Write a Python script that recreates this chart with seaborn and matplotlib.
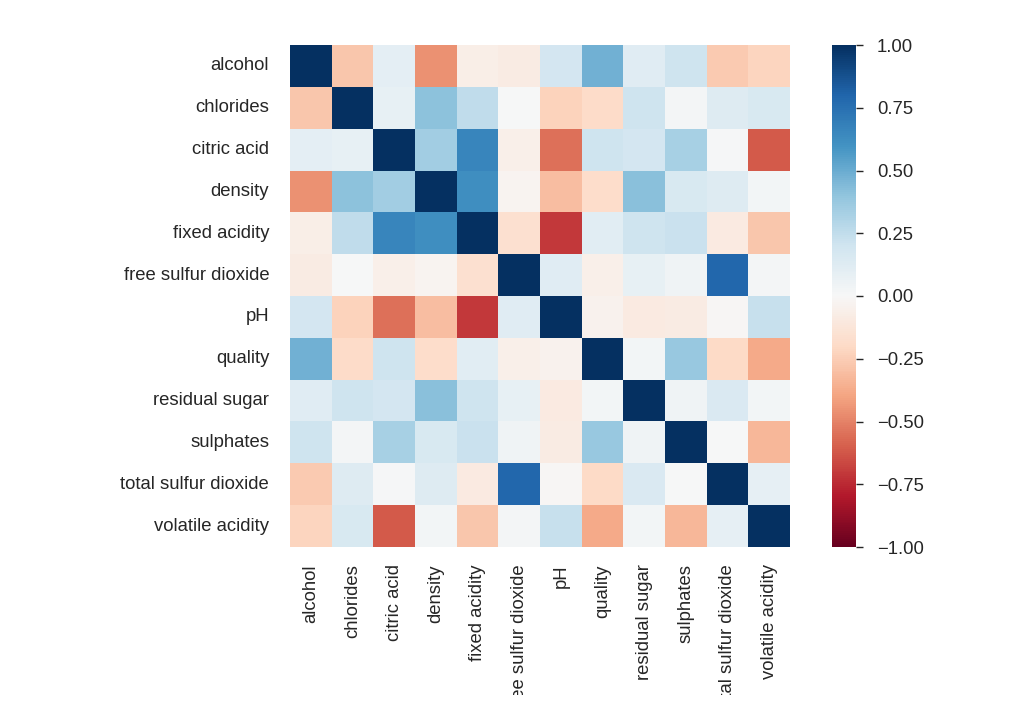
import numpy as np
import pandas as pd
import matplotlib
matplotlib.use("Agg")
import matplotlib.pyplot as plt
from matplotlib.transforms import Bbox, TransformedBbox
import seaborn as sns

features = ["alcohol", "chlorides", "citric acid", "density", "fixed acidity",
            "free sulfur dioxide", "pH", "quality", "residual sugar",
            "sulphates", "total sulfur dioxide", "volatile acidity"]

r_alcohol   = [1.00, -0.28, 0.10, -0.46, -0.07, -0.08, 0.18, 0.48, 0.12, 0.21, -0.26, -0.22]
r_chlorides = [-0.28, 1.00, 0.08, 0.41, 0.25, 0.00, -0.23, -0.19, 0.21, 0.02, 0.13, 0.16]
r_citric    = [0.10, 0.08, 1.00, 0.35, 0.66, -0.06, -0.55, 0.21, 0.18, 0.33, 0.01, -0.61]
r_density   = [-0.46, 0.41, 0.35, 1.00, 0.62, -0.03, -0.31, -0.18, 0.42, 0.16, 0.13, 0.03]
r_fixed     = [-0.07, 0.25, 0.66, 0.62, 1.00, -0.16, -0.71, 0.11, 0.21, 0.22, -0.09, -0.28]
r_free      = [-0.08, 0.00, -0.06, -0.03, -0.16, 1.00, 0.12, -0.06, 0.08, 0.04, 0.79, 0.02]
r_ph        = [0.18, -0.23, -0.55, -0.31, -0.71, 0.12, 1.00, -0.04, -0.09, -0.08, -0.01, 0.23]
r_quality   = [0.48, -0.19, 0.21, -0.18, 0.11, -0.06, -0.04, 1.00, 0.03, 0.38, -0.20, -0.38]
r_sugar     = [0.12, 0.21, 0.18, 0.42, 0.21, 0.08, -0.09, 0.03, 1.00, 0.04, 0.15, 0.03]
r_sulphates = [0.21, 0.02, 0.33, 0.16, 0.22, 0.04, -0.08, 0.38, 0.04, 1.00, 0.00, -0.33]
r_total     = [-0.26, 0.13, 0.01, 0.13, -0.09, 0.79, -0.01, -0.20, 0.15, 0.00, 1.00, 0.09]
r_volatile  = [-0.22, 0.16, -0.61, 0.03, -0.28, 0.02, 0.23, -0.38, 0.03, -0.33, 0.09, 1.00]

rows = [r_alcohol, r_chlorides, r_citric, r_density, r_fixed, r_free, r_ph,
        r_quality, r_sugar, r_sulphates, r_total, r_volatile]
corr = pd.DataFrame(rows, index=features, columns=features)

sns.set_theme(style="white")
plt.rcParams["font.family"] = ["Liberation Sans", "DejaVu Sans"]
FS = 13.3

W, H = 1028, 726
fig = plt.figure(figsize=(W / 100, H / 100), dpi=100)
ax = fig.add_axes([290 / W, 1 - 547 / H, 500 / W, 502 / H])
cax = fig.add_axes([832 / W, 1 - 547 / H, 24 / W, 502 / H])

sns.heatmap(corr, ax=ax, cbar_ax=cax, cmap="RdBu", vmin=-1, vmax=1)
ax.set_xticklabels(features, rotation=90)
ax.set_yticklabels(features, rotation=0)
ax.tick_params(axis="y", labelsize=FS, length=0, pad=15, labelcolor="#262626")
ax.tick_params(axis="x", labelsize=FS, length=0, pad=12.5, labelcolor="#262626")
cax.tick_params(labelsize=FS, length=5, width=1, pad=10, right=True,
                color="#262626", labelcolor="#262626")

# the long bottom labels are cut off at the lower edge, as in the reference
clip = TransformedBbox(Bbox([[0, 31 / H], [1, 1]]), fig.transFigure)
for lab in ax.get_xticklabels():
    lab.set_clip_on(True)
    lab.set_clip_box(clip)

fig.savefig("out.png", dpi=100)
